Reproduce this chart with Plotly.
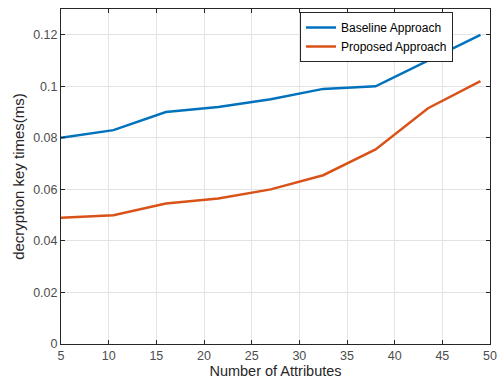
import plotly.graph_objects as go

attributes = [5, 10.5, 16, 21.5, 27, 32.5, 38, 43.5, 49]
baseline = [0.080, 0.083, 0.090, 0.092, 0.095, 0.099, 0.100, 0.110, 0.120]
proposed = [0.049, 0.050, 0.0545, 0.0565, 0.060, 0.0655, 0.0755, 0.0915, 0.102]
x_ticks = [5, 10, 15, 20, 25, 30, 35, 40, 45, 50]
y_ticks = [0, 0.02, 0.04, 0.06, 0.08, 0.1, 0.12]
y_tick_text = ["0", "0.02", "0.04", "0.06", "0.08", "0.1", "0.12"]

FONT = "Liberation Sans, Arial, Helvetica, sans-serif"

fig = go.Figure()
fig.add_trace(go.Scatter(x=attributes, y=baseline, mode="lines", name="Baseline Approach",
                         line=dict(color="#0072BD", width=2.5)))
fig.add_trace(go.Scatter(x=attributes, y=proposed, mode="lines", name="Proposed Approach",
                         line=dict(color="#D95319", width=2.5)))

axis_common = dict(showline=True, linecolor="#262626", linewidth=1, mirror="ticks",
                   ticks="inside", ticklen=4, tickcolor="#262626",
                   showgrid=True, gridcolor="#e3e3e3", gridwidth=1, zeroline=False,
                   automargin=False,
                   tickfont=dict(family=FONT, size=12.5, color="#4d4d4d"))

fig.update_layout(
    width=499, height=379,
    margin=dict(l=61, r=9, t=9, b=35, pad=0),
    paper_bgcolor="white", plot_bgcolor="white",
    font=dict(family=FONT, color="#262626"),
    xaxis=dict(range=[5, 50], tickvals=x_ticks,
               title=dict(text="Number of Attributes", font=dict(size=14.5, color="#262626"), standoff=3),
               **axis_common),
    yaxis=dict(range=[0, 0.13], tickvals=y_ticks, ticktext=y_tick_text,
               title=dict(text="decryption key times(ms)", font=dict(size=15, color="#262626"), standoff=4),
               **axis_common),
    legend=dict(x=(453 - 61) / 429, y=(344 - 12) / 335, xanchor="right", yanchor="top",
                bgcolor="white", bordercolor="#262626", borderwidth=1,
                font=dict(family=FONT, size=12, color="#000000"), tracegroupgap=0,
                itemwidth=30),
    showlegend=True,
)

fig.write_html("out.html", config={"displayModeBar": False},
               post_script="document.body.style.margin='0';document.body.style.overflow='hidden';")
